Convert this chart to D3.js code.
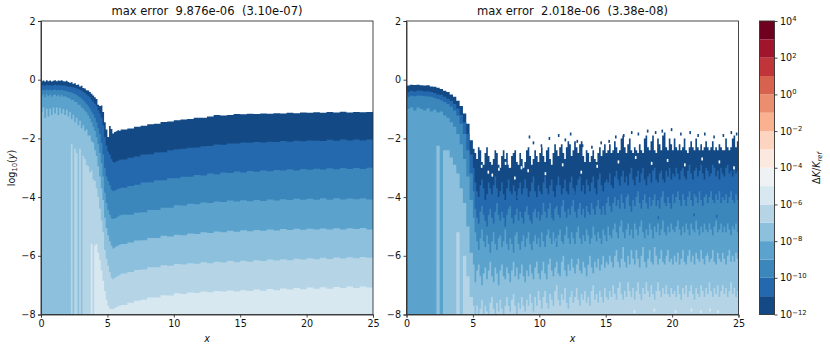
<!DOCTYPE html>
<html>
<head>
<meta charset="utf-8">
<script src="https://cdn.jsdelivr.net/npm/d3@7"></script>
<style>
  body { margin: 0; background: #fff; }
  text { font-family: "DejaVu Sans", sans-serif; fill: #111; }
  .tick line, .domain { stroke: #333; stroke-width: 0.9; }
</style>
</head>
<body>
<div id="chart"></div>
<script>
// colours of the contour bands, lowest decade first
const bandColors = ["#134a85", "#2468ae", "#3b87bc", "#5ba3cc", "#8cc0dd", "#b5d5e7", "#d8e8f1", "#eef2f5",
  "#fbe9e0", "#fcd4bf", "#f9b190", "#eb8d6f", "#d7634f", "#c03539", "#a0142c", "#6f0020"];
const bandEdges = [-12, -11, -10, -9, -8, -7, -6, -5, -4, -3, -2, -1, 0, 1, 2, 3, 4];
const colorbarTicks = [-12, -10, -8, -6, -4, -2, 0, 2, 4];
const xTicks = [0, 5, 10, 15, 20, 25];
const yTicks = [-8, -6, -4, -2, 0, 2];

// left panel: x columns, then the upper edge of each band in log10(y)
const xLeft = [0, .125, .25, .375, .5, .625, .75, .875, 1, 1.125, 1.25, 1.375, 1.5, 1.625, 1.75, 1.875, 2,
  2.125, 2.25, 2.375, 2.5, 2.625, 2.75, 2.875, 3, 3.125, 3.25, 3.375, 3.5, 3.625, 3.75, 3.875, 4,
  4.125, 4.25, 4.375, 4.5, 4.625, 4.75, 4.875, 5, 5.125, 5.25, 5.375, 5.5, 5.625, 5.75, 5.875, 6,
  6.5, 7, 7.5, 8, 8.5, 9, 9.5, 10, 10.5, 11, 11.5, 12, 12.5, 13, 13.5, 14, 14.5, 15, 15.5, 16, 16.5, 17, 17.5, 18, 18.5, 19, 19.5, 20, 20.5, 21, 21.5, 22, 22.5, 23, 23.5, 24, 24.5, 25];
const leftTop0 = [-.05, -.03, -.06, -.02, -.05, -.03, -.06, -.04, -.02, -.05, -.03, -.04, -.02, -.05, -.06, -.04, -.08,
  -.1, -.09, -.14, -.12, -.18, -.16, -.23, -.21, -.28, -.3, -.36, -.37, -.42, -.48, -.54, -.6,
  -.66, -.85, -.9, -.88, -1.1, -1.45, -1.7, -1.95, -1.58, -1.68, -1.83, -1.78, -1.76, -1.72, -1.74, -1.7,
  -1.66, -1.6, -1.57, -1.52, -1.5, -1.44, -1.42, -1.38, -1.36, -1.34, -1.3, -1.3, -1.25, -1.2, -1.22, -1.2, -1.17, -1.18, -1.16, -1.17, -1.15, -1.16, -1.14, -1.15, -1.13, -1.14, -1.12, -1.13, -1.11, -1.13, -1.1, -1.12, -1.09, -1.12, -1.1, -1.11, -1.1, -1.11];
const leftTop1 = [-.2, -.18, -.21, -.17, -.2, -.18, -.21, -.19, -.17, -.2, -.18, -.2, -.19, -.21, -.2, -.22, -.23,
  -.24, -.25, -.26, -.28, -.3, -.32, -.35, -.37, -.42, -.45, -.5, -.55, -.6, -.68, -.75, -.82,
  -.9, -1.05, -1.15, -1.3, -1.55, -1.95, -2.25, -2.45, -2.55, -2.7, -2.8, -2.82, -2.78, -2.76, -2.73, -2.72,
  -2.66, -2.62, -2.55, -2.54, -2.48, -2.47, -2.4, -2.37, -2.35, -2.32, -2.31, -2.27, -2.26, -2.21, -2.22, -2.17, -2.17, -2.14, -2.15, -2.12, -2.14, -2.11, -2.12, -2.09, -2.11, -2.08, -2.1, -2.07, -2.08, -2.09, -2.05, -2.08, -2.04, -2.07, -2.04, -2.07, -2.04, -2.06];
const leftTop2 = [-.36, -.34, -.37, -.33, -.36, -.34, -.37, -.35, -.33, -.36, -.34, -.36, -.35, -.37, -.38, -.39, -.41,
  -.42, -.44, -.46, -.49, -.52, -.56, -.6, -.65, -.7, -.76, -.83, -.9, -.98, -1.08, -1.18, -1.3,
  -1.45, -1.65, -1.85, -2.15, -2.55, -3.0, -3.3, -3.45, -3.6, -3.75, -3.8, -3.78, -3.75, -3.72, -3.7, -3.68,
  -3.62, -3.58, -3.5, -3.49, -3.43, -3.43, -3.36, -3.36, -3.31, -3.31, -3.25, -3.26, -3.2, -3.22, -3.16, -3.18, -3.13, -3.16, -3.11, -3.14, -3.09, -3.12, -3.08, -3.09, -3.05, -3.09, -3.04, -3.07, -3.03, -3.06, -3.02, -3.05, -3.01, -3.04, -3.01, -3.04, -3.0, -3.05];
const leftTop3 = [-.57, -.5, -.6, -.5, -.56, -.5, -.58, -.52, -.5, -.56, -.51, -.57, -.52, -.58, -.56, -.6, -.62,
  -.64, -.7, -.68, -.76, -.76, -.85, -.85, -.95, -.98, -1.06, -1.12, -1.22, -1.32, -1.45, -1.6, -1.75,
  -1.95, -2.2, -2.5, -2.85, -3.3, -3.85, -4.2, -4.45, -4.6, -4.72, -4.75, -4.72, -4.7, -4.66, -4.63, -4.6,
  -4.6, -4.53, -4.52, -4.44, -4.44, -4.36, -4.36, -4.28, -4.29, -4.23, -4.24, -4.18, -4.2, -4.15, -4.17, -4.12, -4.15, -4.11, -4.14, -4.1, -4.13, -4.08, -4.12, -4.07, -4.1, -4.06, -4.09, -4.06, -4.09, -4.04, -4.09, -4.04, -4.08, -4.05, -4.07, -4.04, -4.08, -4.03];
const leftTop4 = [-1.1, -.95, -1.3, -.98, -1.25, -.98, -1.2, -.95, -1.15, -.95, -1.2, -.96, -1.15, -1.0, -1.2, -1.02, -1.25,
  -1.1, -1.35, -1.2, -1.45, -1.3, -1.55, -1.4, -1.65, -1.55, -1.75, -1.7, -1.9, -1.9, -2.1, -2.15, -2.4,
  -2.6, -2.95, -3.3, -3.7, -4.1, -4.7, -5.05, -5.3, -5.5, -5.65, -5.75, -5.72, -5.68, -5.65, -5.62, -5.6,
  -5.55, -5.48, -5.47, -5.39, -5.39, -5.32, -5.34, -5.28, -5.3, -5.24, -5.26, -5.2, -5.22, -5.17, -5.2, -5.15, -5.18, -5.13, -5.16, -5.12, -5.15, -5.1, -5.14, -5.09, -5.12, -5.08, -5.11, -5.08, -5.1, -5.07, -5.1, -5.06, -5.1, -5.06, -5.09, -5.05, -5.1, -5.05];
const leftTop5 = [-8, -8, -8, -8, -8, -8, -8, -8, -8, -8, -8, -8, -8, -8, -8, -8, -8,
  -8, -2.2, -8, -2.35, -2.5, -8, -2.35, -8, -2.6, -2.7, -2.9, -2.95, -3.15, -3.1, -3.4, -3.45,
  -3.7, -4.0, -4.4, -4.8, -5.2, -5.8, -6.1, -6.35, -6.55, -6.75, -6.8, -6.75, -6.72, -6.68, -6.65, -6.6,
  -6.55, -6.48, -6.47, -6.39, -6.39, -6.32, -6.34, -6.28, -6.3, -6.25, -6.27, -6.22, -6.25, -6.2, -6.23, -6.18, -6.22, -6.17, -6.2, -6.15, -6.18, -6.13, -6.16, -6.12, -6.15, -6.1, -6.13, -6.08, -6.12, -6.07, -6.11, -6.06, -6.09, -6.05, -6.08, -6.04, -6.07, -6.03];
const leftTop6 = [-8, -8, -8, -8, -8, -8, -8, -8, -8, -8, -8, -8, -8, -8, -8, -8, -8,
  -8, -8, -8, -8, -8, -8, -8, -8, -8, -8, -8, -8, -8, -5.6, -8, -5.65,
  -5.6, -5.9, -6.15, -6.5, -6.85, -7.2, -7.5, -7.7, -7.8, -7.82, -7.82, -7.78, -7.75, -7.72, -7.7, -7.68,
  -7.6, -7.53, -7.5, -7.42, -7.42, -7.34, -7.35, -7.28, -7.3, -7.25, -7.27, -7.22, -7.24, -7.2, -7.22, -7.18, -7.22, -7.17, -7.2, -7.15, -7.19, -7.13, -7.17, -7.11, -7.15, -7.1, -7.14, -7.08, -7.12, -7.07, -7.12, -7.06, -7.1, -7.05, -7.1, -7.05, -7.08, -7.05];

// right panel: x columns, upper edge of each band (groups of ten per row section)
const xRight = [0, .25, .5, .75, 1, 1.25, 1.5, 1.75, 2, 2.25, 2.5, 2.75, 3, 3.25, 3.5, 3.75, 4, 4.25, 4.5, 4.75, 5,
  5.125, 5.25, 5.375, 5.5, 5.625, 5.75, 5.875, 6, 6.125, 6.25, 6.375, 6.5, 6.625, 6.75, 6.875, 7, 7.125, 7.25, 7.375, 7.5, 7.625, 7.75, 7.875, 8, 8.125, 8.25, 8.375, 8.5, 8.625, 8.75, 8.875, 9, 9.125, 9.25, 9.375, 9.5, 9.625, 9.75, 9.875, 10,
  10.125, 10.25, 10.375, 10.5, 10.625, 10.75, 10.875, 11, 11.125, 11.25, 11.375, 11.5, 11.625, 11.75, 11.875, 12, 12.125, 12.25, 12.375, 12.5, 12.625, 12.75, 12.875, 13, 13.125, 13.25, 13.375, 13.5, 13.625, 13.75, 13.875, 14, 14.125, 14.25, 14.375, 14.5, 14.625, 14.75, 14.875, 15,
  15.125, 15.25, 15.375, 15.5, 15.625, 15.75, 15.875, 16, 16.125, 16.25, 16.375, 16.5, 16.625, 16.75, 16.875, 17, 17.125, 17.25, 17.375, 17.5, 17.625, 17.75, 17.875, 18, 18.125, 18.25, 18.375, 18.5, 18.625, 18.75, 18.875, 19, 19.125, 19.25, 19.375, 19.5, 19.625, 19.75, 19.875, 20,
  20.125, 20.25, 20.375, 20.5, 20.625, 20.75, 20.875, 21, 21.125, 21.25, 21.375, 21.5, 21.625, 21.75, 21.875, 22, 22.125, 22.25, 22.375, 22.5, 22.625, 22.75, 22.875, 23, 23.125, 23.25, 23.375, 23.5, 23.625, 23.75, 23.875, 24, 24.125, 24.25, 24.375, 24.5, 24.625, 24.75, 24.875, 25];
const rightTop0 = [-.2, -.17, -.18, -.17, -.19, -.2, -.19, -.23, -.24, -.27, -.32, -.38, -.42, -.5, -.58, -.72, -.9, -1.15, -1.5, -2.06, -2.35,
  -2.5,-2.7,-2.3,-2.4,-2.8,-2.9,-2.5,-2.3,-2.6,-2.8, -2.9,-2.7,-2.4,-2.5,-2.9,-3.0,-2.6,-2.4,-2.7,-2.5, -2.9,-3.0,-2.6,-2.5,-2.4,-2.8,-2.9,-2.5,-2.7,-3.0, -2.8,-2.4,-2.3,-2.6,-2.9,-2.7,-2.4,-2.6,-2.8,-2.5,
  -2.3,-2.6,-2.8,-2.4,-2.3,-2.7,-2.9,-2.5,-2.2,-2.4, -2.6,-2.3,-2.2,-2.5,-2.7,-2.3,-2.1,-2.2,-2.6,-2.4, -2.1,-2.3,-2.5,-2.2,-2.1,-2.6,-2.8,-2.4,-2.5,-2.8, -2.6,-2.4,-2.7,-2.8,-2.5,-2.3,-2.6,-2.4,-2.2,-2.5,
  -2.4,-2.2,-2.5,-2.4,-2.1,-2.3,-2.5,-2.4,-2.0,-1.9, -2.3,-2.5,-2.2,-2.0,-2.4,-2.5,-2.3,-2.4,-2.5,-2.2, -2.4,-2.5,-2.0,-1.9,-2.3,-2.4,-2.1,-1.9,-2.4,-2.5, -2.0,-2.2,-2.4,-1.9,-1.8,-2.3,-2.4,-2.0,-2.2,-2.4,
  -2.0,-2.3,-2.4,-2.2,-2.4,-2.3,-2.0,-2.4,-2.5,-2.3, -2.1,-2.3,-2.4,-2.0,-2.3,-2.4,-2.2,-2.4,-2.3,-2.1, -2.3,-2.4,-2.3,-2.1,-2.4,-2.3,-2.4,-2.2,-2.3,-2.4, -2.4,-2.0,-2.3,-2.4,-2.3,-2.0,-1.9,-2.3,-2.1,-2.3];
const rightTop1 = [-.42, -.38, -.4, -.37, -.38, -.4, -.39, -.42, -.45, -.5, -.52, -.58, -.65, -.72, -.83, -.98, -1.2, -1.45, -1.85, -2.55, -3.0,
  -3.5,-3.8,-4.0,-3.6,-3.4,-3.7,-4.1,-3.9,-3.5,-3.7, -3.9,-3.6,-3.3,-3.7,-4.0,-3.8,-3.5,-3.9,-4.1,-3.7, -3.4,-3.8,-3.9,-3.6,-3.8,-4.1,-3.7,-3.5,-3.9,-3.7, -3.4,-3.7,-4.0,-3.8,-3.5,-3.3,-3.8,-4.0,-3.6,-3.8,
  -3.9,-3.5,-3.3,-3.7,-3.9,-3.6,-3.4,-3.8,-4.0,-3.6, -3.3,-3.6,-3.9,-3.7,-3.4,-3.8,-3.9,-3.5,-3.3,-3.7, -3.9,-3.6,-3.4,-3.3,-3.8,-3.6,-3.9,-3.4,-3.6,-3.8, -3.5,-3.3,-3.7,-3.9,-3.4,-3.2,-3.6,-3.8,-3.5,-3.4,
  -3.5,-3.2,-3.6,-3.7,-3.3,-3.1,-3.4,-3.6,-3.3,-3.1, -3.5,-3.3,-3.6,-3.2,-3.0,-3.4,-3.6,-3.3,-3.1,-3.5, -3.2,-3.0,-3.4,-3.6,-3.3,-3.2,-3.5,-3.1,-3.0,-3.4, -3.5,-3.2,-3.1,-3.4,-3.5,-3.1,-3.3,-3.0,-3.4,-3.2,
  -3.3,-3.0,-3.2,-3.4,-3.1,-3.0,-3.3,-3.4,-3.1,-2.9, -3.2,-3.4,-3.1,-3.0,-3.3,-3.1,-2.9,-3.2,-3.4,-3.0, -3.1,-3.3,-3.2,-2.9,-3.0,-3.3,-3.1,-3.4,-3.0,-3.2, -3.3,-3.0,-2.9,-3.2,-3.1,-3.3,-3.0,-3.2,-3.1,-3.1];
const rightTop2 = [-.58, -.55, -.56, -.54, -.55, -.56, -.57, -.58, -.62, -.66, -.7, -.76, -.83, -.92, -1.05, -1.22, -1.5, -1.85, -2.4, -3.2, -3.8,
  -4.4,-4.7,-4.9,-4.5,-4.3,-4.6,-4.8,-5.0,-4.6,-4.4, -4.7,-4.9,-4.5,-4.2,-4.6,-4.8,-4.5,-4.7,-5.0,-4.6, -4.4,-4.3,-4.7,-4.9,-4.6,-4.4,-4.8,-4.5,-4.7,-4.9, -4.5,-4.3,-4.6,-4.8,-4.9,-4.5,-4.4,-4.7,-4.5,-4.8,
  -4.6,-4.2,-4.5,-4.7,-4.4,-4.2,-4.6,-4.8,-4.4,-4.3, -4.6,-4.7,-4.3,-4.1,-4.5,-4.7,-4.4,-4.6,-4.3,-4.1, -4.5,-4.7,-4.4,-4.2,-4.6,-4.4,-4.7,-4.3,-4.5,-4.6, -4.2,-4.4,-4.6,-4.3,-4.1,-4.4,-4.6,-4.3,-4.5,-4.2,
  -4.0,-4.3,-4.5,-4.2,-4.0,-4.3,-4.1,-4.4,-3.9,-4.2, -4.4,-4.0,-3.9,-4.3,-4.5,-4.1,-4.3,-4.0,-3.8,-4.2, -4.4,-4.1,-3.9,-4.2,-4.4,-4.0,-4.3,-4.1,-3.9,-4.3, -4.1,-4.4,-4.0,-3.8,-4.2,-4.3,-4.0,-4.2,-4.4,-3.9,
  -4.2,-4.0,-3.8,-4.1,-4.3,-3.9,-4.1,-4.3,-4.0,-3.8, -4.1,-4.3,-3.9,-4.0,-4.2,-3.8,-4.1,-4.3,-4.0,-3.9, -4.2,-4.0,-3.8,-4.1,-4.2,-3.9,-4.1,-3.8,-4.2,-4.0, -4.1,-3.9,-4.2,-4.0,-3.8,-4.1,-4.2,-3.9,-4.1,-4.0];
const rightTop3 = [-1.0, -.95, -1.05, -.95, -1.0, -1.05, -.97, -1.08, -1.02, -1.12, -1.08, -1.22, -1.3, -1.45, -1.6, -1.85, -2.2, -2.7, -3.3, -4.1, -4.7,
  -5.2,-5.5,-5.8,-5.4,-5.1,-5.5,-5.7,-5.3,-5.6,-5.9, -5.5,-5.2,-5.6,-5.8,-5.4,-5.3,-5.7,-5.5,-5.1,-5.6, -5.8,-5.4,-5.6,-5.9,-5.3,-5.2,-5.6,-5.8,-5.5,-5.3, -5.7,-5.4,-5.2,-5.6,-5.8,-5.5,-5.3,-5.6,-5.4,-5.7,
  -5.2,-5.5,-5.7,-5.3,-5.1,-5.4,-5.6,-5.2,-5.5,-5.7, -5.3,-5.1,-5.5,-5.6,-5.3,-5.0,-5.4,-5.6,-5.2,-5.4, -5.6,-5.2,-5.0,-5.4,-5.6,-5.3,-5.5,-5.1,-5.3,-5.6, -5.4,-5.0,-5.3,-5.5,-5.2,-5.4,-5.6,-5.1,-5.3,-5.5,
  -5.0,-5.3,-5.4,-5.1,-4.9,-5.2,-5.4,-5.0,-4.8,-5.2, -5.4,-5.1,-4.9,-5.3,-5.1,-5.4,-4.9,-5.1,-5.3,-5.0, -4.8,-5.2,-5.4,-5.1,-5.3,-4.9,-5.1,-5.4,-5.0,-5.2, -4.9,-5.3,-5.1,-4.8,-5.2,-5.3,-5.0,-5.2,-4.9,-5.1,
  -5.2,-5.0,-4.8,-5.1,-5.3,-5.0,-5.2,-4.9,-5.1,-5.3, -4.9,-5.1,-5.2,-4.8,-5.1,-5.3,-5.0,-5.2,-4.9,-5.1, -5.2,-4.9,-5.1,-5.3,-5.0,-4.8,-5.2,-5.1,-4.9,-5.2, -5.0,-5.2,-4.9,-5.1,-5.3,-5.0,-5.1,-4.9,-5.2,-5.0];
const rightTop4 = [-8, -8, -8, -8, -8, -8, -8, -8, -8, -2.25, -8, -2.4, -2.4, -2.65, -2.9, -3.2, -3.7, -4.2, -5, -5.9, -6.3,
  -6.9,-6.5,-6.3,-6.7,-7.0,-6.6,-6.4,-6.8,-6.5,-6.2, -6.7,-6.9,-6.4,-6.6,-7.0,-6.5,-6.3,-6.7,-6.8,-6.4, -6.6,-6.9,-6.5,-6.2,-6.7,-6.4,-6.8,-6.6,-6.3,-6.7, -6.9,-6.5,-6.7,-6.3,-6.6,-6.8,-6.4,-6.2,-6.6,-6.8,
  -6.5,-6.2,-6.6,-6.8,-6.3,-6.1,-6.5,-6.7,-6.4,-6.2, -6.6,-6.7,-6.2,-6.0,-6.5,-6.7,-6.3,-6.5,-6.1,-6.4, -6.6,-6.3,-6.1,-6.5,-6.6,-6.2,-6.4,-6.7,-6.3,-6.0, -6.4,-6.6,-6.2,-6.4,-6.1,-6.5,-6.3,-6.0,-6.4,-6.2,
  -6.3,-6.0,-6.2,-6.4,-6.0,-5.8,-6.2,-6.4,-6.1,-5.7, -6.2,-6.4,-6.0,-6.3,-5.8,-6.1,-6.3,-5.8,-6.1,-6.4, -6.0,-5.7,-6.2,-6.4,-6.1,-5.8,-6.2,-6.3,-5.7,-6.0, -6.3,-6.1,-5.8,-6.2,-6.3,-6.0,-5.8,-6.2,-6.1,-6.3,
  -6.0,-6.2,-5.9,-6.3,-6.1,-5.8,-6.2,-6.3,-6.0,-5.8, -6.2,-6.0,-6.3,-5.9,-6.1,-6.2,-5.8,-6.1,-6.3,-6.0, -5.9,-6.2,-6.1,-5.8,-6.2,-6.3,-5.9,-6.1,-6.2,-5.9, -6.1,-6.3,-6.0,-5.8,-6.2,-6.0,-6.2,-5.9,-6.1,-6.1];
const rightTop5 = [-8, -8, -8, -8, -8, -8, -8, -8, -8, -8, -8, -8, -8, -8, -8, -5.2, -8, -6.0, -6.7, -7.4, -7.7,
  -8,-7.7,-8,-7.8,-7.5,-8,-7.7,-7.9,-8,-7.6, -7.4,-7.8,-8,-7.6,-7.9,-7.5,-7.8,-8,-7.7,-7.4, -7.7,-7.9,-7.5,-7.3,-7.7,-8,-7.6,-7.8,-7.4,-7.7, -7.9,-7.5,-7.7,-7.3,-7.6,-7.9,-7.4,-7.7,-7.2,-7.5,
  -7.8,-7.4,-7.2,-7.6,-7.8,-7.3,-7.5,-7.7,-7.2,-7.0, -7.5,-7.7,-7.3,-7.5,-7.1,-7.6,-7.8,-7.4,-7.2,-7.6, -7.4,-7.1,-7.5,-7.7,-7.3,-7.5,-7.2,-7.6,-7.4,-7.7, -7.2,-7.0,-7.5,-7.3,-7.6,-7.2,-7.4,-7.6,-7.1,-7.4,
  -7.5,-7.2,-7.4,-7.0,-7.3,-7.5,-7.1,-6.9,-7.3,-7.5, -7.2,-7.4,-6.9,-7.2,-7.4,-7.1,-7.5,-7.2,-6.9,-7.3, -7.5,-7.1,-7.3,-6.9,-7.2,-7.4,-7.0,-7.3,-7.5,-7.2, -6.9,-7.2,-7.4,-7.1,-7.3,-7.0,-7.3,-7.4,-7.1,-7.3,
  -7.2,-7.4,-7.0,-7.3,-7.5,-7.1,-7.3,-7.0,-7.4,-7.2, -7.0,-7.3,-7.5,-7.1,-7.3,-7.4,-7.0,-7.2,-7.4,-7.1, -7.3,-6.9,-7.2,-7.4,-7.1,-7.3,-7.0,-7.4,-7.2,-7.0, -7.3,-7.1,-7.4,-7.2,-6.9,-7.3,-7.1,-7.4,-7.2,-7.3];

// flecks in the right panel that the band edges can't reach: x, log10(y), band (-1 = hole)
const fleckX = [5.6, 6.1, 6.9, 7.4, 8.1, 8.6, 9.2, 9.5, 10.1, 10.7, 11.4, 11.9, 12.3, 12.8, 13.2, 13.9, 14.6, 15.2, 15.7,
  16.3, 16.9, 17.4, 18.1, 18.7, 19.2, 19.9, 20.6, 21.3, 21.9, 22.4, 23.1, 23.8, 24.4, 24.8,
  6.4, 7.7, 9.1, 10.4, 11.7, 13.1, 14.3, 15.9, 17.2, 18.4, 19.6, 20.9, 22.2, 23.5, 24.6,
  5.9, 8.3, 10.9, 12.6, 14.9, 16.6, 18.9, 20.3, 21.6, 23.3, 24.2,
  6.6, 8.9, 11.2, 13.6, 15.4, 17.7, 19.4, 21.1, 22.7, 24.1,
  17.1, 18.6, 20.2, 21.4, 22.1, 22.8, 23.4];
const fleckY = [-2.9, -3.1, -3.0, -2.8, -3.3, -2.95, -1.9, -2.1, -2.2, -1.95, -1.85, -2.0, -1.8, -2.05, -2.2, -2.25, -2.1, -2.05, -1.9,
  -1.85, -1.75, -1.8, -1.7, -1.75, -1.7, -1.65, -1.8, -1.75, -1.85, -1.8, -1.9, -1.85, -1.75, -1.8,
  -3.2, -2.9, -3.05, -3.15, -2.85, -3.1, -2.9, -2.75, -2.6, -2.8, -2.7, -2.85, -2.65, -2.75, -2.95,
  -4.7, -3.95, -4.6, -3.8, -4.5, -3.75, -4.65, -3.7, -4.55, -4.6, -3.65,
  -5.9, -6.1, -5.4, -6.2, -5.6, -5.5, -6.0, -5.45, -5.9, -5.4,
  -7.85, -7.8, -7.85, -7.8, -7.85, -7.8, -7.85];
const fleckBand = [-1, -1, -1, -1, -1, -1, 0, 0, 0, 0, 0, 0, 0, 0, 0, 0, 0, 0, 0,
  0, 0, 0, 0, 0, 0, 0, 0, 0, 0, 0, 0, 0, 0, 0,
  -1, -1, -1, -1, -1, -1, -1, -1, -1, -1, -1, -1, -1, -1, -1,
  1, 1, 1, 1, 1, 1, 1, 1, 1, 1, 1,
  3, 3, 3, 3, 3, 3, 3, 3, 3, 3,
  6, 6, 6, 6, 6, 6, 6];

const panels = [
  { left: 41, title: "max error  9.876e-06  (3.10e-07)", xs: xLeft,
    edges: [leftTop0, leftTop1, leftTop2, leftTop3, leftTop4, leftTop5, leftTop6] },
  { left: 406.5, title: "max error  2.018e-06  (3.38e-08)", xs: xRight,
    edges: [rightTop0, rightTop1, rightTop2, rightTop3, rightTop4, rightTop5] }
];

const plotW = 332, plotTop = 21, plotH = 293.5;
const svg = d3.select("#chart").append("svg").attr("width", 830).attr("height", 346);
const fmt = d => String(d).replace("-", "\u2212");

panels.forEach((p, k) => {
  const g = svg.append("g").attr("transform", "translate(" + p.left + "," + plotTop + ")");
  const x = d3.scaleLinear().domain([0, 25]).range([0, plotW]);
  const y = d3.scaleLinear().domain([-8, 2]).range([plotH, 0]);

  // each band is painted from its upper edge down to the bottom, later bands cover earlier ones
  const area = d3.area().curve(d3.curveStepAfter)
    .x((d, i) => x(p.xs[i]))
    .y0(y(-8))
    .y1(d => y(d));
  p.edges.forEach((edge, i) => {
    g.append("path").attr("d", area(edge)).attr("fill", bandColors[i]);
  });

  if (k === 1) {
    g.selectAll(".fleck").data(fleckX).join("rect")
      .attr("class", "fleck")
      .attr("x", d => x(d))
      .attr("y", (d, i) => y(fleckY[i]))
      .attr("width", 1.6)
      .attr("height", 3)
      .attr("fill", (d, i) => fleckBand[i] < 0 ? "#fff" : bandColors[fleckBand[i]]);
  }

  const xAxis = d3.axisBottom(x).tickValues(xTicks).tickSize(3).tickPadding(2.5).tickFormat(fmt);
  const yAxis = d3.axisLeft(y).tickValues(yTicks).tickSize(3).tickPadding(2.5).tickFormat(fmt);
  g.append("g").attr("transform", "translate(0," + plotH + ")").call(xAxis);
  g.append("g").call(yAxis);
  g.selectAll(".tick text").attr("font-size", 9.6).style("font-family", "'DejaVu Sans'");
  g.append("rect").attr("width", plotW).attr("height", plotH)
    .attr("fill", "none").attr("stroke", "#333").attr("stroke-width", 0.9);

  g.append("text").attr("x", plotW / 2).attr("y", -6).attr("text-anchor", "middle")
    .attr("font-size", 11.55).attr("xml:space", "preserve").style("white-space", "pre").text(p.title);
  g.append("text").attr("x", plotW / 2).attr("y", plotH + 27).attr("text-anchor", "middle")
    .attr("font-size", 9.6).attr("font-style", "italic").text("x");
});

// y label of the left panel
const yLabel = svg.append("text").attr("transform", "translate(15,168) rotate(-90)")
  .attr("text-anchor", "middle").attr("font-size", 9.6);
yLabel.append("tspan").text("log");
yLabel.append("tspan").attr("font-size", 6.8).attr("dy", 1.5).text("10");
yLabel.append("tspan").attr("dy", -1.5).text("(");
yLabel.append("tspan").attr("font-style", "italic").text("y");
yLabel.append("tspan").text(")");

// colorbar
const cbar = svg.append("g").attr("transform", "translate(759.5," + plotTop + ")");
const cbarW = 15;
const cy = d3.scaleLinear().domain([-12, 4]).range([plotH, 0]);
bandColors.forEach((c, i) => {
  cbar.append("rect").attr("x", 0).attr("y", cy(bandEdges[i + 1])).attr("width", cbarW)
    .attr("height", cy(bandEdges[i]) - cy(bandEdges[i + 1])).attr("fill", c);
});
cbar.append("rect").attr("width", cbarW).attr("height", plotH)
  .attr("fill", "none").attr("stroke", "#333").attr("stroke-width", 0.9);
const cAxis = cbar.append("g").attr("transform", "translate(" + cbarW + ",0)")
  .call(d3.axisRight(cy).tickValues(colorbarTicks).tickSize(3).tickPadding(2.5));
cAxis.select(".domain").remove();
cAxis.selectAll(".tick text").each(function (d) {
  const t = d3.select(this).text("").attr("font-size", 9.6).style("font-family", "'DejaVu Sans'");
  t.append("tspan").text("10");
  t.append("tspan").attr("font-size", 6.8).attr("dy", -3.5).text(fmt(d));
});

const cLabel = svg.append("text").attr("transform", "translate(820,168) rotate(-90)")
  .attr("text-anchor", "middle").attr("font-size", 9.6);
cLabel.append("tspan").text("\u0394");
cLabel.append("tspan").attr("font-style", "italic").text("K");
cLabel.append("tspan").text("/");
cLabel.append("tspan").attr("font-style", "italic").text("K");
cLabel.append("tspan").attr("font-size", 6.8).attr("font-style", "italic").attr("dy", 1.5).text("ref");
</script>
</body>
</html>
